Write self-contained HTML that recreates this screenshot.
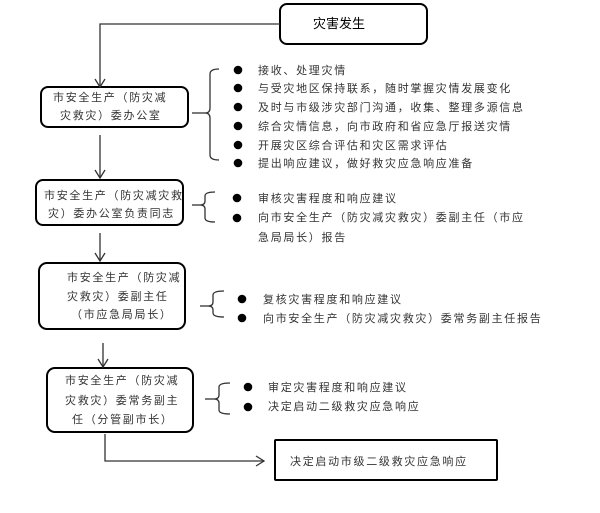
<!DOCTYPE html>
<html><head><meta charset="utf-8"><style>
html,body{margin:0;padding:0;background:#fff;}
svg{display:block;}
text{font-family:"Liberation Sans","Noto Sans CJK SC","WenQuanYi Zen Hei",sans-serif;fill:#333;}
.s{font-size:11px;letter-spacing:1.7px;}
</style></head><body>
<svg width="600" height="513" viewBox="0 0 600 513" xmlns="http://www.w3.org/2000/svg">
<g fill="none" stroke="#000" stroke-width="2">
<rect x="280" y="4" width="147" height="40" rx="7"/>
<rect x="41" y="87" width="147" height="40" rx="7"/>
<rect x="36" y="180" width="147" height="45" rx="7"/>
<rect x="39" y="263" width="146" height="66" rx="8"/>
<rect x="47" y="368" width="146" height="64" rx="8"/>
<rect x="275" y="440" width="222" height="40" rx="1"/>
</g>
<g fill="none" stroke="#333" stroke-width="1.3">
<path d="M280 24 H100 V87"/>
<path d="M95 79 L100 87 L105 79"/>
<path d="M100 135 V178"/>
<path d="M95 170 L100 178 L105 170"/>
<path d="M100 233 V261"/>
<path d="M95 253 L100 261 L105 253"/>
<path d="M103 343 V367"/>
<path d="M98 359 L103 367 L108 359"/>
<path d="M105 434 V461 H264"/>
<path d="M256 456 L264 461 L256 466"/>
<path d="M192 113 H205"/>
<path d="M219 69 Q210 69 210 74 L210 108 Q210 113 205 113 Q210 113 210 118 L210 155 Q210 160 219 160"/>
<path d="M192 205 H200"/>
<path d="M215 192 Q205 192 205 196 L205 201 Q205 205 200 205 Q205 205 205 209 L205 218 Q205 222 215 222"/>
<path d="M200 306 H208"/>
<path d="M224 291 Q213 291 213 295 L213 302 Q213 306 208 306 Q213 306 213 310 L213 313 Q213 317 224 317"/>
<path d="M205 399 H214"/>
<path d="M230 383 Q219 383 219 387 L219 395 Q219 399 214 399 Q219 399 219 403 L219 410 Q219 414 230 414"/>
</g>
<g fill="#000">
<circle cx="238" cy="70" r="4.3"/>
<circle cx="238" cy="88" r="4.3"/>
<circle cx="238" cy="107" r="4.3"/>
<circle cx="238" cy="126" r="4.3"/>
<circle cx="238" cy="145" r="4.3"/>
<circle cx="238" cy="163" r="4.3"/>
<circle cx="237" cy="198" r="4.3"/>
<circle cx="237" cy="218" r="4.3"/>
<circle cx="242" cy="299" r="4.3"/>
<circle cx="242" cy="318" r="4.3"/>
<circle cx="248" cy="387" r="4.3"/>
<circle cx="248" cy="407" r="4.3"/>
</g>
<text x="313" y="28" style="font-size:13px;fill:#000;">灾害发生</text>
<g class="s">
<text x="53" y="101">市安全生产（防灾减</text>
<text x="60" y="119">灾救灾）委办公室</text>
<text x="44" y="199">市安全生产（防灾减灾救</text>
<text x="48" y="217">灾）委办公室负责同志</text>
<text x="67" y="281">市安全生产（防灾减</text>
<text x="67" y="300">灾救灾）委副主任</text>
<text x="71" y="318">（市应急局局长）</text>
<text x="65" y="384">市安全生产（防灾减</text>
<text x="65" y="404">灾救灾）委常务副主</text>
<text x="72" y="423">任（分管副市长）</text>

<text x="258" y="74">接收、处理灾情</text>
<text x="258" y="92">与受灾地区保持联系，随时掌握灾情发展变化</text>
<text x="258" y="111">及时与市级涉灾部门沟通，收集、整理多源信息</text>
<text x="258" y="130">综合灾情信息，向市政府和省应急厅报送灾情</text>
<text x="258" y="149">开展灾区综合评估和灾区需求评估</text>
<text x="258" y="167">提出响应建议，做好救灾应急响应准备</text>

<text x="258" y="202">审核灾害程度和响应建议</text>
<text x="258" y="221">向市安全生产（防灾减灾救灾）委副主任（市应</text>
<text x="258" y="241">急局局长）报告</text>

<text x="263" y="303">复核灾害程度和响应建议</text>
<text x="263" y="322">向市安全生产（防灾减灾救灾）委常务副主任报告</text>

<text x="268" y="391">审定灾害程度和响应建议</text>
<text x="268" y="410">决定启动二级救灾应急响应</text>

<text x="290" y="465">决定启动市级二级救灾应急响应</text>
</g>
</svg>
</body></html>
